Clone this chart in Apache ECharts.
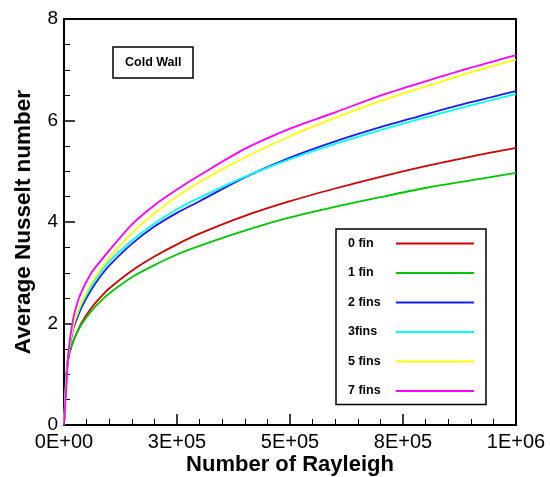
<!DOCTYPE html>
<html>
<head>
<meta charset="utf-8">
<script src="https://cdn.jsdelivr.net/npm/echarts@6/dist/echarts.min.js"></script>
<style>
html,body{margin:0;padding:0;background:#fff;}
#chart{width:550px;height:477px;}
</style>
</head>
<body>
<div id="chart"></div>
<script>
// Rayleigh numbers (x)
var rayleigh = [0, 2000, 5000, 10000, 20000, 30000, 40000, 60000, 80000, 100000, 150000, 200000, 250000, 300000, 400000, 500000, 600000, 700000, 800000, 900000, 1000000];
// Average Nusselt number per configuration
var fin0  = [0, 0.40, 0.95, 1.32, 1.64, 1.85, 2.03, 2.30, 2.51, 2.69, 3.04, 3.32, 3.56, 3.77, 4.12, 4.41, 4.66, 4.89, 5.10, 5.29, 5.46];
var fin1  = [0, 0.45, 1.00, 1.35, 1.64, 1.84, 2.00, 2.24, 2.43, 2.59, 2.91, 3.15, 3.36, 3.53, 3.83, 4.09, 4.30, 4.49, 4.67, 4.82, 4.97];
var fins2 = [0, 0.35, 0.85, 1.38, 1.88, 2.13, 2.34, 2.66, 2.92, 3.14, 3.57, 3.91, 4.18, 4.41, 4.88, 5.27, 5.59, 5.87, 6.12, 6.36, 6.58];
var fins3 = [0, 0.38, 0.90, 1.42, 1.93, 2.19, 2.40, 2.73, 3.00, 3.22, 3.63, 3.97, 4.25, 4.48, 4.89, 5.24, 5.54, 5.81, 6.06, 6.30, 6.52];
var fins5 = [0, 0.35, 0.85, 1.42, 1.95, 2.22, 2.44, 2.78, 3.05, 3.29, 3.78, 4.17, 4.50, 4.79, 5.27, 5.69, 6.05, 6.38, 6.67, 6.95, 7.20];
var fins7 = [0, 0.30, 0.75, 1.45, 2.08, 2.42, 2.65, 2.99, 3.22, 3.44, 3.95, 4.33, 4.64, 4.92, 5.44, 5.84, 6.16, 6.49, 6.77, 7.04, 7.29];

var seriesNames = ['0 fin', '1 fin', '2 fins', '3fins', '5 fins', '7 fins'];
var seriesValues = [fin0, fin1, fins2, fins3, fins5, fins7];
var seriesColors = ['#d40000', '#00c800', '#1a1aff', '#00ffff', '#ffff00', '#ff00ff'];

var xTickLabels = ['0E+00', '3E+05', '5E+05', '8E+05', '1E+06'];
var yTickLabels = ['0', '2', '4', '6', '8'];

var chart = echarts.init(document.getElementById('chart'), null, {renderer: 'canvas'});
var font = 'Liberation Sans, Arial, Helvetica, sans-serif';

function pairs(vals) {
  return rayleigh.map(function (r, i) { return [r, vals[i]]; });
}

var series = seriesNames.map(function (name, k) {
  return {
    name: name,
    type: 'line',
    data: pairs(seriesValues[k]),
    showSymbol: false,
    symbol: 'none',
    smooth: 0.3,
    lineStyle: {color: seriesColors[k], width: 1.8},
    itemStyle: {color: seriesColors[k]},
    animation: false
  };
});

var axisCommon = {
  axisLine: {show: true, lineStyle: {color: '#000', width: 2}},
  axisTick: {show: true, inside: true, length: 11, lineStyle: {color: '#000', width: 1.5}},
  minorTick: {show: true, length: 6, lineStyle: {color: '#000', width: 1}},
  splitLine: {show: false},
  axisLabel: {color: '#000', fontFamily: font, fontSize: 19},
  nameTextStyle: {color: '#000', fontFamily: font, fontSize: 22, fontWeight: 'bold'}
};

var option = {
  backgroundColor: '#fff',
  animation: false,
  grid: {left: 64, right: 34, top: 19, bottom: 52, outerBoundsMode: 'none', containLabel: false, show: true, borderColor: '#000', borderWidth: 2, backgroundColor: 'transparent'},
  title: {
    text: 'Cold Wall',
    left: 113, top: 47,
    padding: [9, 12, 9, 12],
    borderColor: '#000', borderWidth: 1.5,
    textStyle: {fontFamily: font, fontSize: 12.5, fontWeight: 'bold', color: '#000'}
  },
  legend: {
    data: seriesNames,
    orient: 'vertical',
    left: 336, top: 229,
    align: 'right',
    padding: [8, 11, 7, 12],
    itemGap: 16.5,
    itemWidth: 78,
    itemHeight: 12,
    itemStyle: {opacity: 0},
    borderColor: '#000', borderWidth: 1.5,
    backgroundColor: '#fff',
    formatter: function (name) { return '{a|' + name + '}'; },
    textStyle: {
      fontFamily: font, fontSize: 12.5, fontWeight: 'bold', color: '#000',
      rich: {a: {width: 43, align: 'left', fontFamily: font, fontSize: 12.5, fontWeight: 'bold', color: '#000'}}
    }
  },
  xAxis: Object.assign({}, axisCommon, {
    type: 'value',
    min: 0, max: 1000000, interval: 250000,
    minorTick: Object.assign({}, axisCommon.minorTick, {splitNumber: 5}),
    name: 'Number of Rayleigh',
    nameLocation: 'middle',
    nameMoveOverlap: false,
    nameGap: 29,
    axisLabel: Object.assign({}, axisCommon.axisLabel, {
      fontSize: 20,
      margin: 7,
      formatter: function (v) { return xTickLabels[Math.round(v / 250000)]; }
    })
  }),
  yAxis: Object.assign({}, axisCommon, {
    type: 'value',
    min: 0, max: 8, interval: 2,
    minorTick: Object.assign({}, axisCommon.minorTick, {splitNumber: 4}),
    name: 'Average Nusselt number',
    nameLocation: 'middle',
    nameMoveOverlap: false,
    nameGap: 29,
    nameTextStyle: Object.assign({}, axisCommon.nameTextStyle, {fontSize: 22.5}),
    axisLabel: Object.assign({}, axisCommon.axisLabel, {
      margin: 6,
      formatter: function (v) { return yTickLabels[Math.round(v / 2)]; }
    })
  }),
  series: series
};
chart.setOption(option);
</script>
</body>
</html>
